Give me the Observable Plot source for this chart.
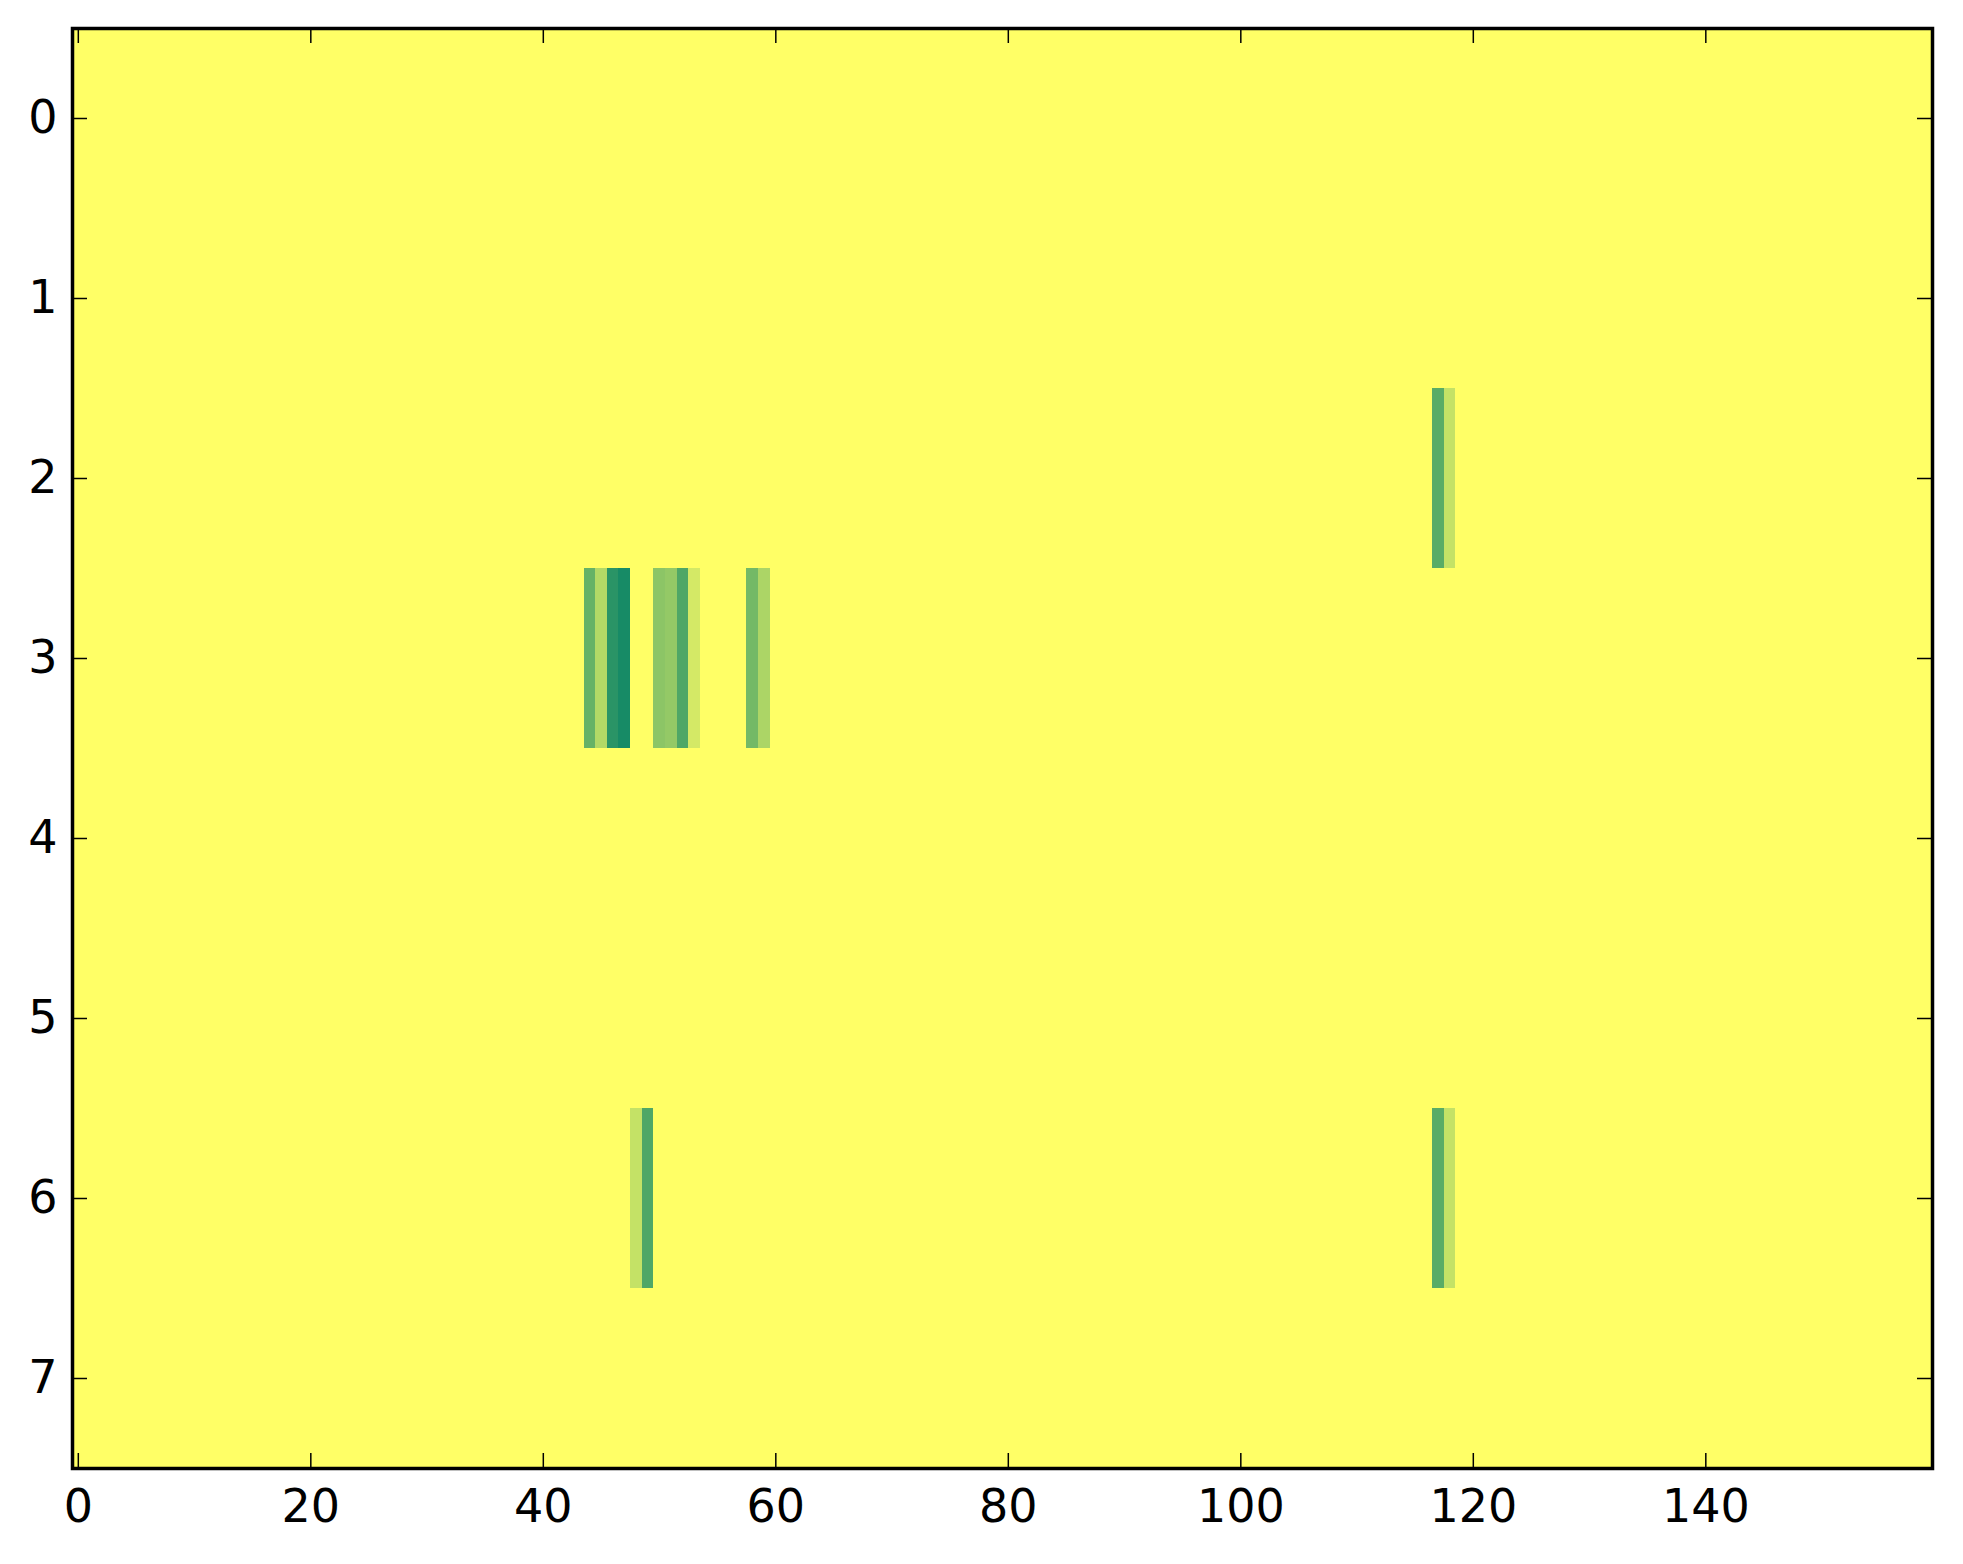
<!DOCTYPE html>
<html>
<head>
<meta charset="utf-8">
<script src="https://cdn.jsdelivr.net/npm/d3@7"></script>
<script src="https://cdn.jsdelivr.net/npm/@observablehq/plot@0.6"></script>
<style>
  html, body { margin: 0; padding: 0; background: #fff; }
  #chart svg { display: block; }
</style>
</head>
<body>
<div id="chart"></div>
<script>
// Grid size (matrix shown with imshow)
const nRows = 8;
const nCols = 160;

// Non-zero cells: row index, column index, value (0..1, summer_r colormap)
const cellRow   = [3,    3,    3,     3,    3,    3,    3,    3,    3,    3,    2,    2,    6,    6,    6,    6];
const cellCol   = [44,   45,   46,    47,   50,   51,   52,   53,   58,   59,   117,  118,  48,   49,   117,  118];
const cellValue = [0.60, 0.30, 0.835, 0.91, 0.45, 0.42, 0.69, 0.17, 0.55, 0.325, 0.65, 0.23, 0.23, 0.69, 0.65, 0.23];

// Tick labels
const xTicks = [0, 20, 40, 60, 80, 100, 120, 140];
const yTicks = [0, 1, 2, 3, 4, 5, 6, 7];

// Build full grid
const grid = [];
for (let r = 0; r < nRows; r++) {
  for (let c = 0; c < nCols; c++) grid.push({row: r, col: c, value: 0});
}
cellRow.forEach((r, i) => { grid[r * nCols + cellCol[i]].value = cellValue[i]; });

const W = 1963, H = 1564;
const mL = 72, mR = 31, mT = 28, mB = 96;
const plotW = W - mL - mR, plotH = H - mT - mB;
const tickLen = 15;
const font = "DejaVu Sans";

const chart = Plot.plot({
  width: W,
  height: H,
  marginLeft: mL,
  marginRight: mR,
  marginTop: mT,
  marginBottom: mB,
  style: {fontFamily: font, fontSize: "46px", color: "#000", background: "#fff"},
  x: {type: "linear", domain: [-0.5, nCols - 0.5]},
  y: {type: "linear", domain: [-0.5, nRows - 0.5], reverse: true},
  color: {type: "linear", domain: [0, 1], range: ["#ffff66", "#007f66"], interpolate: "rgb"},
  marks: [
    Plot.rect(grid, {
      x1: d => d.col - 0.5, x2: d => d.col + 0.5,
      y1: d => d.row - 0.5, y2: d => d.row + 0.5,
      fill: "value", shapeRendering: "crispEdges"
    }),
    // inward ticks on all four sides
    Plot.tickX(xTicks, {x: d => d, insetTop: plotH - tickLen, stroke: "#000", strokeWidth: 1.5}),
    Plot.tickX(xTicks, {x: d => d, insetBottom: plotH - tickLen, stroke: "#000", strokeWidth: 1.5}),
    Plot.tickY(yTicks, {y: d => d, insetRight: plotW - tickLen, stroke: "#000", strokeWidth: 1.5}),
    Plot.tickY(yTicks, {y: d => d, insetLeft: plotW - tickLen, stroke: "#000", strokeWidth: 1.5}),
    Plot.axisX(xTicks, {anchor: "bottom", tickSize: 0, tickPadding: 21, label: null, fontSize: 46, tickFormat: d3.format("d")}),
    Plot.axisY(yTicks, {anchor: "left", tickSize: 0, tickPadding: 15, label: null, fontSize: 46, tickFormat: d3.format("d")}),
    Plot.frame({stroke: "#000", strokeWidth: 3.5})
  ]
});

document.getElementById("chart").appendChild(chart);
</script>
</body>
</html>
